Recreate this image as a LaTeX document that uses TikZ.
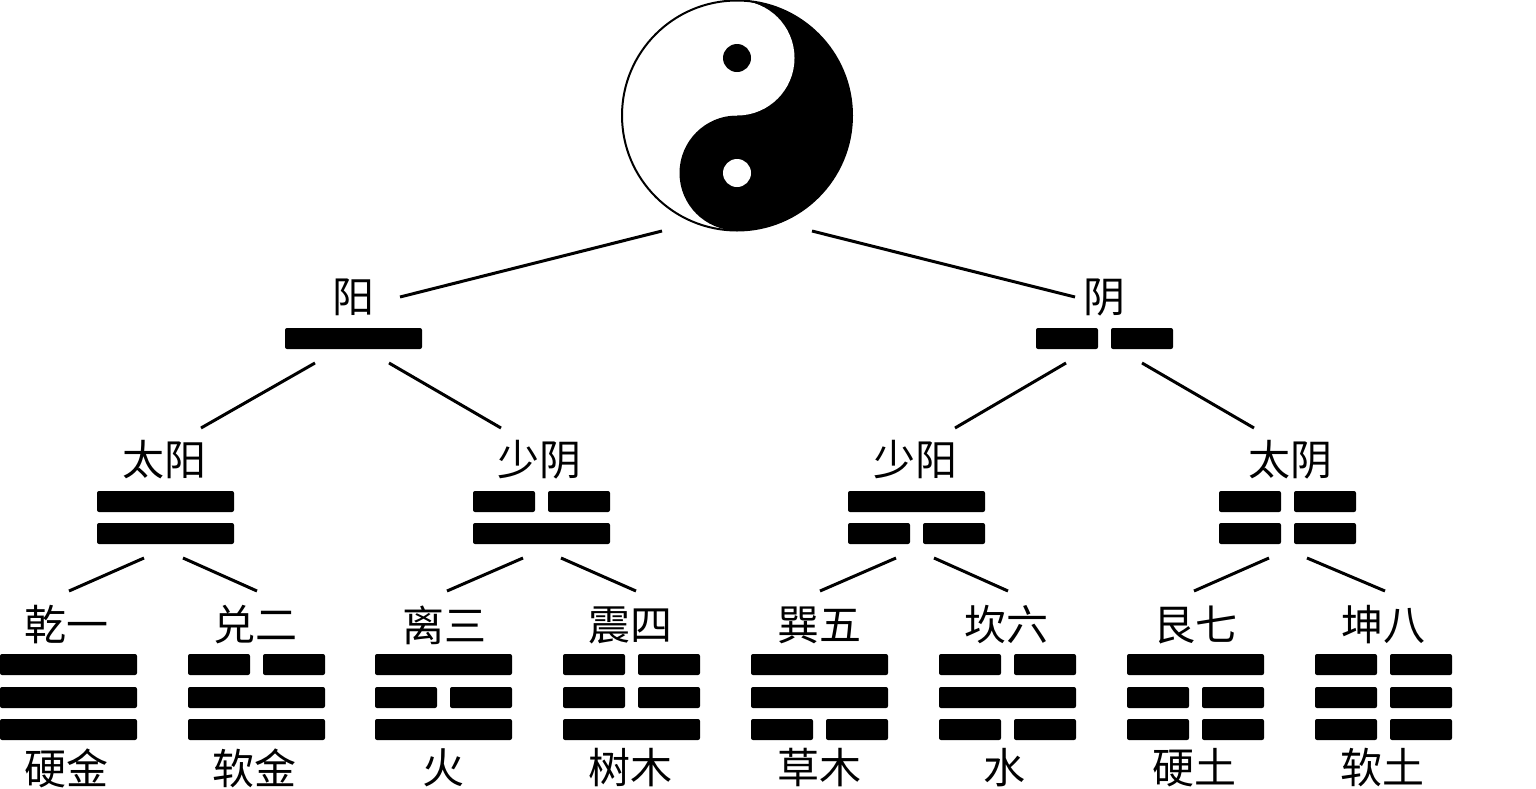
\documentclass[tikz,border=0pt]{standalone}
\usepackage{fontspec}
\newfontfamily\cjk{Noto Sans CJK SC}
\newcommand\yaoline[3]{%
  \ifnum#3=1
    \fill[yaobar] (#1,#2) rectangle ++(137,21);
  \else
    \fill[yaobar] (#1,#2) rectangle ++(62,21);
    \fill[yaobar] (#1+75,#2) rectangle ++(62,21);
  \fi}
\begin{document}
\begin{tikzpicture}[x=0.5pt,y=-0.5pt,
  yaobar/.style={fill=black,rounded corners=1pt},
  lbl/.style={font=\cjk\fontsize{21pt}{21pt}\selectfont,inner sep=0pt,anchor=center},
  conn/.style={line width=1.5pt,black}]
\useasboundingbox (0,0) rectangle (1536,788);
\fill[white] (0,0) rectangle (1536,788);

% ---- yin-yang ----
\coordinate (yy) at (737,115.5);
\coordinate (yyT) at (737,58);
\coordinate (yyB) at (737,173);
\fill[white] (yy) circle[radius=57.5pt];
\begin{scope}
  \clip (737,-5) rectangle (860,240);
  \fill[black] (yy) circle[radius=57.5pt];
\end{scope}
\fill[black] (yyB) circle[radius=28.75pt];
\fill[white] (yyT) circle[radius=28.75pt];
\fill[black] (yyT) circle[radius=7pt];
\fill[white] (yyB) circle[radius=7pt];
\draw[line width=1pt] (yy) circle[radius=57.5pt];

% ---- level 1 ----
\node[lbl] (yang) at (353,297) {阳};
\node[lbl] (yin) at (1104,297) {阴};
\yaoline{285}{328}{1}
\yaoline{1036}{328}{0}

% ---- level 2 ----
\node[lbl] (taiyang) at (164,460) {太阳};
\node[lbl] (shaoyin) at (539,460) {少阴};
\node[lbl] (shaoyang) at (915,460) {少阳};
\node[lbl] (taiyin) at (1290,460) {太阴};
\yaoline{97}{491}{1}   \yaoline{97}{523}{1}
\yaoline{473}{491}{0}  \yaoline{473}{523}{1}
\yaoline{848}{491}{1}  \yaoline{848}{523}{0}
\yaoline{1219}{491}{0} \yaoline{1219}{523}{0}

% ---- level 3 ----
\node[lbl] (qian) at (67,625) {乾一};
\node[lbl] (dui) at (255,625) {兑二};
\node[lbl] (li) at (444,625) {离三};
\node[lbl] (zhen) at (630,625) {震四};
\node[lbl] (xun) at (819,625) {巽五};
\node[lbl] (kan) at (1006,625) {坎六};
\node[lbl] (gen) at (1195,625) {艮七};
\node[lbl] (kun) at (1383,625) {坤八};

\yaoline{0}{654}{1}    \yaoline{0}{687}{1}    \yaoline{0}{719}{1}
\yaoline{188}{654}{0}  \yaoline{188}{687}{1}  \yaoline{188}{719}{1}
\yaoline{375}{654}{1}  \yaoline{375}{687}{0}  \yaoline{375}{719}{1}
\yaoline{563}{654}{0}  \yaoline{563}{687}{0}  \yaoline{563}{719}{1}
\yaoline{751}{654}{1}  \yaoline{751}{687}{1}  \yaoline{751}{719}{0}
\yaoline{939}{654}{0}  \yaoline{939}{687}{1}  \yaoline{939}{719}{0}
\yaoline{1127}{654}{1} \yaoline{1127}{687}{0} \yaoline{1127}{719}{0}
\yaoline{1315}{654}{0} \yaoline{1315}{687}{0} \yaoline{1315}{719}{0}

\node[lbl] (qianE) at (67,768) {硬金};
\node[lbl] (duiE) at (254,768) {软金};
\node[lbl] (liE) at (443,768) {火};
\node[lbl] (zhenE) at (630,768) {树木};
\node[lbl] (xunE) at (819,768) {草木};
\node[lbl] (kanE) at (1004,768) {水};
\node[lbl] (genE) at (1194,768) {硬土};
\node[lbl] (kunE) at (1382,768) {软土};

% ---- connector end points ----
\coordinate (yy-l) at (662,231);   \coordinate (yang-t) at (400,297);
\coordinate (yy-r) at (812,231);   \coordinate (yin-t) at (1075,297);
\coordinate (yang-l) at (315,363); \coordinate (taiyang-t) at (201,428);
\coordinate (yang-r) at (389,363); \coordinate (shaoyin-t) at (501,428);
\coordinate (yin-l) at (1066,363); \coordinate (shaoyang-t) at (955,428);
\coordinate (yin-r) at (1142,363); \coordinate (taiyin-t) at (1254,428);
\coordinate (taiyang-l) at (144,558);  \coordinate (qian-t) at (69,591);
\coordinate (taiyang-r) at (183,558);  \coordinate (dui-t) at (257,591);
\coordinate (shaoyin-l) at (523,558);  \coordinate (li-t) at (447,591);
\coordinate (shaoyin-r) at (561,558);  \coordinate (zhen-t) at (636,591);
\coordinate (shaoyang-l) at (896,558); \coordinate (xun-t) at (820,591);
\coordinate (shaoyang-r) at (934,558); \coordinate (kan-t) at (1008,591);
\coordinate (taiyin-l) at (1269,558);  \coordinate (gen-t) at (1194,591);
\coordinate (taiyin-r) at (1307,558);  \coordinate (kun-t) at (1385,591);

\draw[conn] (yy-l) -- (yang-t);
\draw[conn] (yy-r) -- (yin-t);
\draw[conn] (yang-l) -- (taiyang-t);
\draw[conn] (yang-r) -- (shaoyin-t);
\draw[conn] (yin-l) -- (shaoyang-t);
\draw[conn] (yin-r) -- (taiyin-t);
\draw[conn] (taiyang-l) -- (qian-t);
\draw[conn] (taiyang-r) -- (dui-t);
\draw[conn] (shaoyin-l) -- (li-t);
\draw[conn] (shaoyin-r) -- (zhen-t);
\draw[conn] (shaoyang-l) -- (xun-t);
\draw[conn] (shaoyang-r) -- (kan-t);
\draw[conn] (taiyin-l) -- (gen-t);
\draw[conn] (taiyin-r) -- (kun-t);
\end{tikzpicture}
\end{document}
